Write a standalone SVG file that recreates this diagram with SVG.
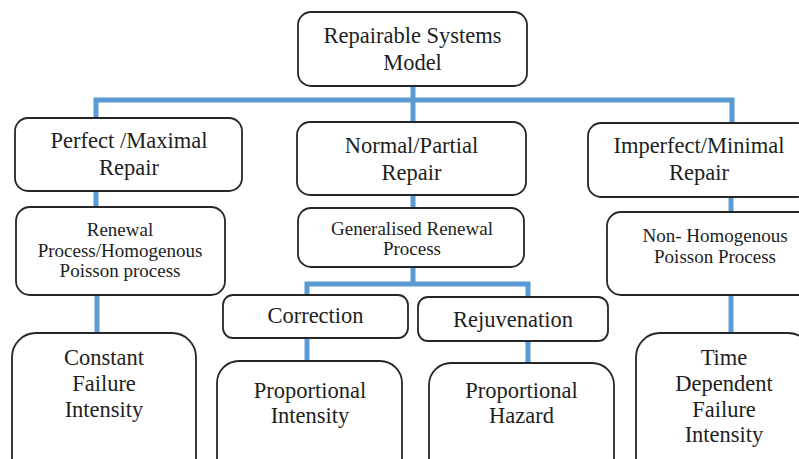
<svg xmlns="http://www.w3.org/2000/svg" width="799" height="459" viewBox="0 0 799 459">
<style>
.bg{fill:#ffffff}
.box{fill:#ffffff;stroke:#262626;stroke-width:1.8}
.conn{fill:none;stroke:#5b9bd5;stroke-width:5;stroke-linecap:butt;stroke-linejoin:miter}
.t{fill:#1e1e1e;text-anchor:middle}
.l{font-size:22.5px}
.s{font-size:19px}
</style>
<rect class="bg" x="0" y="0" width="799" height="459"/>
<g id="connectors">
<path class="conn" d="M413,86 V122"/>
<path class="conn" d="M96,118 V100 H732 V123"/>
<path class="conn" d="M96,191 V207"/>
<path class="conn" d="M413,195 V208"/>
<path class="conn" d="M731,197 V212"/>
<path class="conn" d="M97,295 V333"/>
<path class="conn" d="M413,267 V284"/>
<path class="conn" d="M307,295 V284 H528 V297"/>
<path class="conn" d="M307,338 V361"/>
<path class="conn" d="M528,341 V363"/>
<path class="conn" d="M731,295 V333"/>
</g>
<g font-family="Liberation Serif, DejaVu Serif, serif" class="t">
<g id="root">
<rect class="box" x="298" y="12" width="229" height="74" rx="13"/>
<text class="l" x="412.5" y="43">Repairable Systems</text>
<text class="l" x="412.5" y="70">Model</text>
</g>
<g id="perfect">
<rect class="box" x="15" y="118" width="227" height="73" rx="13"/>
<text class="l" x="129" y="148">Perfect /Maximal</text>
<text class="l" x="129" y="175">Repair</text>
</g>
<g id="normal">
<rect class="box" x="297" y="122" width="229" height="73" rx="13"/>
<text class="l" x="411.5" y="153">Normal/Partial</text>
<text class="l" x="411.5" y="180">Repair</text>
</g>
<g id="imperfect">
<rect class="box" x="588" y="123" width="222" height="74" rx="13"/>
<text class="l" x="699" y="153">Imperfect/Minimal</text>
<text class="l" x="699" y="180">Repair</text>
</g>
<g id="renewal">
<rect class="box" x="16" y="207" width="209" height="88" rx="14"/>
<text class="s" x="120" y="236">Renewal</text>
<text class="s" x="120" y="257">Process/Homogenous</text>
<text class="s" x="120" y="277">Poisson process</text>
</g>
<g id="generalised">
<rect class="box" x="298" y="208" width="226" height="59" rx="13"/>
<text class="s" x="412" y="235">Generalised Renewal</text>
<text class="s" x="412" y="255">Process</text>
</g>
<g id="nonhomogenous">
<rect class="box" x="607" y="212" width="216" height="83" rx="14"/>
<text class="s" x="715" y="242">Non- Homogenous</text>
<text class="s" x="715" y="263">Poisson Process</text>
</g>
<g id="correction">
<rect class="box" x="223" y="295" width="185" height="43" rx="10"/>
<text class="l" x="315.5" y="323">Correction</text>
</g>
<g id="rejuvenation">
<rect class="box" x="418" y="297" width="190" height="44" rx="10"/>
<text class="l" x="513" y="327">Rejuvenation</text>
</g>
<g id="constant">
<rect class="box" x="12" y="333" width="184" height="150" rx="24"/>
<text class="l" x="104" y="365">Constant</text>
<text class="l" x="104" y="391">Failure</text>
<text class="l" x="104" y="417">Intensity</text>
</g>
<g id="prop-intensity">
<rect class="box" x="217" y="361" width="185" height="120" rx="22"/>
<text class="l" x="310" y="398">Proportional</text>
<text class="l" x="310" y="423">Intensity</text>
</g>
<g id="prop-hazard">
<rect class="box" x="429" y="363" width="185" height="120" rx="22"/>
<text class="l" x="521.5" y="398">Proportional</text>
<text class="l" x="521.5" y="423">Hazard</text>
</g>
<g id="time-dependent">
<rect class="box" x="636" y="333" width="176" height="150" rx="24"/>
<text class="l" x="724" y="365">Time</text>
<text class="l" x="724" y="391">Dependent</text>
<text class="l" x="724" y="417">Failure</text>
<text class="l" x="724" y="442">Intensity</text>
</g>
</g>
</svg>
